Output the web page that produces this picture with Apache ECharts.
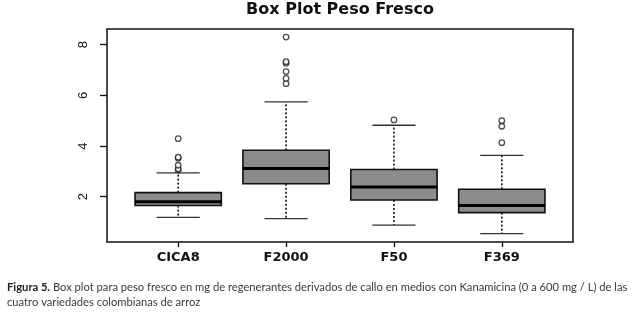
<!DOCTYPE html>
<html>
<head>
<meta charset="utf-8">
<script src="https://cdn.jsdelivr.net/npm/echarts@6/dist/echarts.min.js"></script>
<style>
  html, body { margin: 0; padding: 0; background: #fff; }
  #chart { width: 639px; height: 315px; }
</style>
</head>
<body>
<div id="chart"></div>
<script>
// varieties, placed at x = 1..4 like R's boxplot
const categories = ['CICA8', 'F2000', 'F50', 'F369'];
const positions = [1, 2, 3, 4];

// five-number summaries (mg)
const whiskerLow = [1.18, 1.13, 0.88, 0.54];
const q1 = [1.65, 2.51, 1.87, 1.37];
const median = [1.80, 3.11, 2.38, 1.65];
const q3 = [2.16, 3.83, 3.07, 2.29];
const whiskerHigh = [2.94, 5.74, 4.82, 3.63];

// outliers: which box and value
const outlierGroup = [1, 1, 1, 1, 1, 1, 2, 2, 2, 2, 2, 2, 3, 4, 4, 4];
const outlierValue = [3.05, 3.10, 3.24, 3.52, 3.56, 4.29, 6.46, 6.67, 6.94, 7.27, 7.33, 8.30, 5.03, 4.13, 4.78, 5.00];

const yTicks = [2, 4, 6, 8];

const boxData = positions.map((p, i) => [p, whiskerLow[i], q1[i], median[i], q3[i], whiskerHigh[i]]);
const outlierData = outlierGroup.map((g, i) => [g, outlierValue[i]]);

function renderBox(params, api) {
  const x = api.value(0);
  const xc = api.coord([x, 0])[0];
  const left = api.coord([x - 0.4, 0])[0];
  const right = api.coord([x + 0.4, 0])[0];
  const capL = api.coord([x - 0.2, 0])[0];
  const capR = api.coord([x + 0.2, 0])[0];
  const yLow = api.coord([x, api.value(1)])[1];
  const yQ1 = api.coord([x, api.value(2)])[1];
  const yMed = api.coord([x, api.value(3)])[1];
  const yQ3 = api.coord([x, api.value(4)])[1];
  const yHigh = api.coord([x, api.value(5)])[1];
  const dash = { stroke: '#111', lineWidth: 1.6, lineDash: [2, 2] };
  const cap = { stroke: '#333', lineWidth: 1.3 };
  return {
    type: 'group',
    children: [
      { type: 'line', shape: { x1: xc, y1: yQ1, x2: xc, y2: yLow }, style: dash },
      { type: 'line', shape: { x1: xc, y1: yQ3, x2: xc, y2: yHigh }, style: dash },
      { type: 'line', shape: { x1: capL, y1: yLow, x2: capR, y2: yLow }, style: cap },
      { type: 'line', shape: { x1: capL, y1: yHigh, x2: capR, y2: yHigh }, style: cap },
      {
        type: 'rect',
        shape: { x: left, y: yQ3, width: right - left, height: yQ1 - yQ3 },
        style: { fill: '#8b8b8b', stroke: '#111', lineWidth: 1.6 }
      },
      { type: 'line', shape: { x1: left, y1: yMed, x2: right, y2: yMed }, style: { stroke: '#000', lineWidth: 3 } }
    ]
  };
}

var myChart = echarts.init(document.getElementById('chart'));
var option = {
  backgroundColor: '#fff',
  animation: false,
  grid: {
    left: 107,
    right: 66,
    top: 29,
    bottom: 73,
    show: true,
    borderColor: '#111',
    borderWidth: 1.5
  },
  xAxis: {
    type: 'value',
    min: 0.34,
    max: 4.66,
    splitLine: { show: false },
    axisLine: { show: false },
    axisTick: { show: true, length: 5, customValues: positions, lineStyle: { color: '#111', width: 1.3 } },
    axisLabel: {
      customValues: positions,
      formatter: v => categories[Math.round(v) - 1] || '',
      margin: 9,
      fontFamily: 'DejaVu Sans',
      fontWeight: 'bold',
      fontSize: 13,
      color: '#111'
    }
  },
  yAxis: {
    type: 'value',
    min: 0.21,
    max: 8.62,
    splitLine: { show: false },
    axisLine: { show: false },
    axisTick: { show: true, length: 7, customValues: yTicks, lineStyle: { color: '#111', width: 1.3 } },
    axisLabel: {
      customValues: yTicks,
      rotate: 90,
      margin: 17,
      fontFamily: 'Liberation Sans',
      fontSize: 13,
      color: '#111'
    }
  },
  graphic: [
    {
      type: 'text',
      x: 340,
      y: 10,
      style: {
        text: 'Box Plot Peso Fresco',
        font: 'bold 16px "DejaVu Sans"',
        fill: '#111',
        textAlign: 'center',
        textVerticalAlign: 'middle'
      }
    },
    {
      type: 'text',
      x: 7,
      y: 287,
      style: {
        text: '{b|Figura 5.} Box plot para peso fresco en mg de regenerantes derivados de callo en medios con Kanamicina (0 a 600 mg / L) de las',
        rich: { b: { fontFamily: 'Lato', fontSize: 11.2, fontWeight: 'bold', fill: '#222' } },
        fontFamily: 'Lato',
        fontSize: 11.2,
        fill: '#3a3a3a',
        textVerticalAlign: 'middle'
      }
    },
    {
      type: 'text',
      x: 7,
      y: 302,
      style: {
        text: 'cuatro variedades colombianas de arroz',
        fontFamily: 'Lato',
        fontSize: 11.2,
        fill: '#3a3a3a',
        textVerticalAlign: 'middle'
      }
    }
  ],
  series: [
    {
      name: 'box',
      type: 'custom',
      renderItem: renderBox,
      encode: { x: 0, y: [1, 2, 3, 4, 5] },
      data: boxData
    },
    {
      name: 'outliers',
      type: 'scatter',
      symbol: 'circle',
      symbolSize: 5.5,
      itemStyle: { color: '#fff', borderColor: '#222', borderWidth: 1.3 },
      data: outlierData
    }
  ]
};

option && myChart.setOption(option);
</script>
</body>
</html>
